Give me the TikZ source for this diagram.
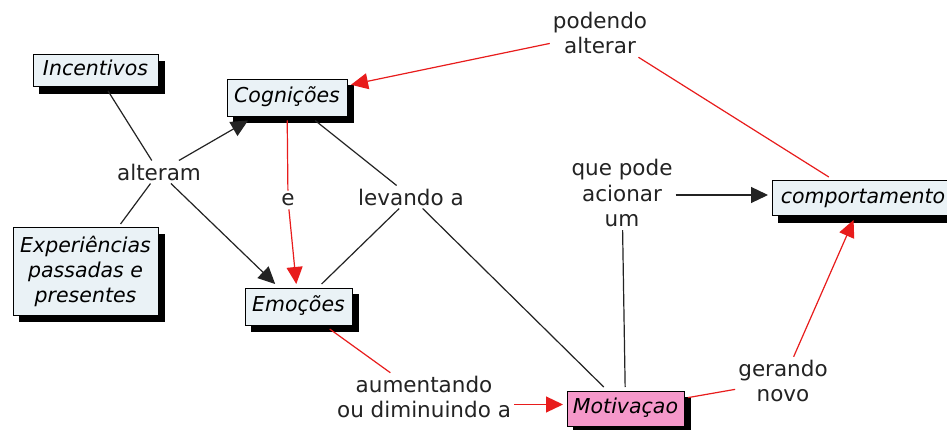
\documentclass[tikz,border=0pt]{standalone}
\usepackage{fontspec}
\setmainfont{DejaVu Sans}
\usetikzlibrary{arrows.meta,shadows}
\definecolor{boxfill}{RGB}{234,242,246}
\definecolor{pinkfill}{RGB}{245,152,202}
\definecolor{redc}{RGB}{232,28,28}
\definecolor{linec}{RGB}{35,35,35}
\definecolor{textc}{RGB}{35,35,35}
\newcommand{\lblfont}{\fontsize{21.5}{25.5}\selectfont}
\newcommand{\boxfont}{\fontsize{20.5}{25}\selectfont\itshape}
\begin{document}
\begin{tikzpicture}[x=1pt,y=-1pt,
  conceptbase/.style={draw=black, line width=1pt, fill=boxfill, font=\boxfont,
    inner xsep=4pt, inner ysep=0pt, outer sep=4pt,
    copy shadow={shadow xshift=6.5pt, shadow yshift=-6.5pt, fill=black, draw=black}},
  concept/.style={conceptbase, minimum height=35pt, text height=15pt, text depth=5pt},
  lbl/.style={font=\lblfont, text=textc, align=center, inner sep=3pt},
  blk/.style={draw=linec, line width=1.2pt},
  blkarr/.style={blk, -{Triangle[length=17pt,width=16pt]}},
  rl/.style={draw=redc, line width=1.2pt},
  rlarr/.style={rl, -{Triangle[length=17pt,width=16pt]}}
]
\useasboundingbox (0,0) rectangle (947,430);
\fill[white] (0,0) rectangle (947,430);

% concepts
\node[concept, minimum width=125pt, minimum height=32pt] (inc) at (95.5,71) {Incentivos};
\node[concept, minimum width=120pt, minimum height=37pt] (cog) at (287,98) {Cognições};
\node[concept, minimum width=107pt, minimum height=37pt] (emo) at (298.5,306.5) {Emoções};
\node[conceptbase, align=center, minimum width=145pt, minimum height=87pt] (exp) at (85.5,271.5) {Experiências\\passadas e\\presentes};
\node[concept, minimum width=182pt] (comp) at (863,198.5) {comportamento};
\node[concept, fill=pinkfill, minimum width=117pt] (mot) at (625.5,408.5) {Motivaçao};

% linking phrases
\node[lbl] (alt) at (159,172) {alteram};
\node[lbl] (e) at (288,200) {e};
\node[lbl] (lev) at (411,197) {levando a};
\node[lbl] (pod) at (600,33) {podendo\\alterar};
\node[lbl] (que) at (622,193) {que pode\\acionar\\um};
\node[lbl] (ger) at (783,381) {gerando\\novo};
\node[lbl] (aum) at (424,397) {aumentando\\ou diminuindo a};

\coordinate (motin) at ([yshift=4pt]mot.west);
\coordinate (compin) at ([yshift=3.5pt]comp.west);

% connectors
\draw[blk] (inc) -- (alt);
\draw[blk] (exp) -- (alt);
\draw[blkarr] (alt) -- (cog);
\draw[blkarr] (alt) -- (emo);
\draw[rl] (cog) -- (e);
\draw[rlarr] (e) -- (emo);
\draw[blk] (cog) -- (lev);
\draw[blk] (emo) -- (lev);
\draw[blk] (lev) -- (mot);
\draw[rl] (emo) -- (aum);
\draw[rlarr] (aum.east |- motin) -- (motin);
\draw[blk] (mot) -- (que);
\draw[blkarr] (que.east |- compin) -- (compin);
\draw[rl] (mot) -- (ger);
\draw[rlarr] (ger) -- (comp);
\draw[rl] (comp) -- (pod);
\draw[rlarr] (pod) -- (cog);
\end{tikzpicture}
\end{document}
